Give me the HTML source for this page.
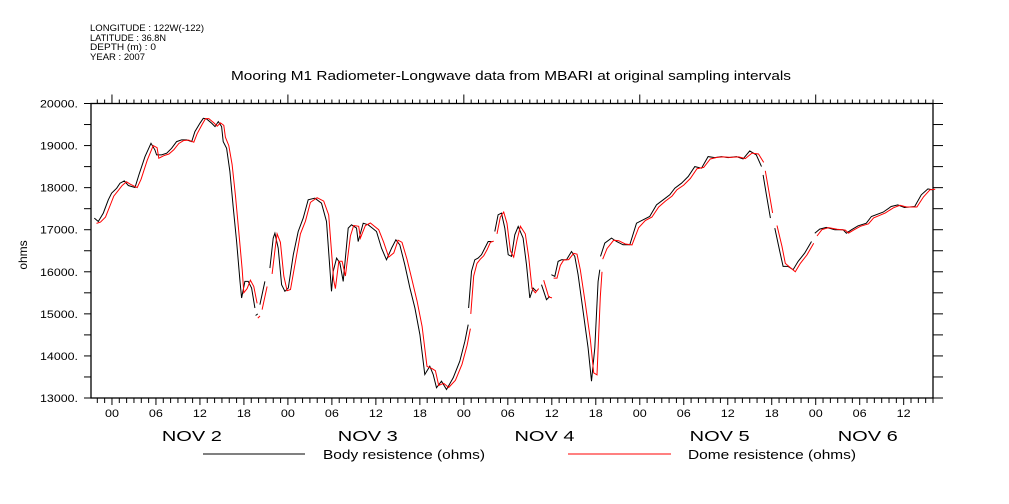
<!DOCTYPE html>
<html><head><meta charset="utf-8"><style>
body{margin:0;background:#fff;}
svg{display:block;font-family:"Liberation Sans",sans-serif;}
</style></head><body>
<svg id="chart" width="1009" height="504" viewBox="0 0 1009 504" xmlns="http://www.w3.org/2000/svg">
<g font-size="9" fill="#000">
<text x="90" y="31" textLength="114" lengthAdjust="spacingAndGlyphs">LONGITUDE : 122W(-122)</text>
<text x="90" y="41" textLength="76" lengthAdjust="spacingAndGlyphs">LATITUDE : 36.8N</text>
<text x="90" y="50" textLength="66" lengthAdjust="spacingAndGlyphs">DEPTH (m) : 0</text>
<text x="90" y="60" textLength="55" lengthAdjust="spacingAndGlyphs">YEAR : 2007</text>
</g>
<text x="231" y="80" textLength="560" lengthAdjust="spacingAndGlyphs" font-size="12.5">Mooring M1 Radiometer-Longwave data from MBARI at original sampling intervals</text>
<text transform="translate(27,255) rotate(-90)" text-anchor="middle" font-size="12">ohms</text>
<g id="axes"></g>
<g id="series"></g>
<g font-size="12.5">
<line x1="203" y1="454" x2="305" y2="454" stroke="#000"/>
<text x="323" y="459" textLength="162" lengthAdjust="spacingAndGlyphs">Body resistence (ohms)</text>
<line x1="568" y1="454" x2="671" y2="454" stroke="#f00"/>
<text x="688" y="459" textLength="168" lengthAdjust="spacingAndGlyphs">Dome resistence (ohms)</text>
</g>
</svg>
<script>
// hours relative to Nov 2 00:00
const hours=[-2.41,-1.86,-1.18,-0.5,-0.05,0.64,1.09,1.68,2.23,3.14,3.68,4.5,5.32,5.86,6.09,6.77,7.46,8.14,8.82,9.5,10.18,10.87,11.32,12.0,12.46,12.91,13.6,14.05,14.5,14.96,15.18,15.64,16.09,16.55,17.0,17.46,17.68,18.14,18.59,19.05,19.5,19.55,19.6,19.9,20.0,20.18,20.86,21.2,21.55,22.0,22.23,22.68,23.14,23.59,24.05,24.73,25.41,26.09,26.77,27.68,28.59,29.27,29.95,30.18,30.64,31.09,31.55,32.23,32.68,33.36,33.59,34.27,34.96,35.5,36.09,36.77,37.45,38.14,38.73,39.27,39.95,40.64,41.32,42.0,42.68,43.36,43.82,44.27,44.95,45.64,46.55,47.45,48.14,48.59,48.6,48.65,49.05,49.5,49.95,50.41,50.86,51.32,51.77,52.0,52.23,52.68,53.14,53.59,54.05,54.5,54.95,55.41,56.09,56.55,57.0,57.45,57.91,58.2,58.59,59.27,59.73,59.85,59.95,60.41,60.86,61.32,62.0,62.68,63.14,63.59,64.27,64.95,65.41,65.86,66.32,66.55,66.6,66.64,67.23,68.14,68.82,69.73,70.64,71.55,72.45,73.36,74.28,75.2,76.1,76.78,77.69,78.6,79.5,80.42,81.32,82.23,83.14,84.05,85.19,86.1,87.0,87.9,88.6,88.7,88.82,89.28,89.82,90.1,90.42,91.1,91.55,92.23,92.92,93.6,94.5,95.42,95.6,95.87,96.55,97.46,98.6,99.73,100.19,100.87,101.78,102.9,103.6,105.2,106.3,107.2,108.1,109.5,110.4,111.3,112.0];
const bodyValues=[17275,17196,17394,17710,17868,17987,18106,18161,18050,18003,18303,18738,19055,18897,18778,18778,18818,18936,19094,19134,19134,19094,19332,19529,19648,19632,19529,19450,19569,19450,19094,18936,18382,17512,16721,15772,15377,15772,15772,15614,15140,null,14960,15000,null,15219,15772,null,16088,16800,16918,16562,15693,15535,15614,16405,16958,17275,17710,17750,17631,17196,15535,16009,16325,16207,15772,17038,17117,17038,16721,17156,17117,17040,16958,16562,16285,16562,16760,16641,16167,15614,15140,14507,13558,13756,13558,13242,13400,13202,13479,13874,14349,14745,null,15140,16009,16285,16325,16405,16562,16721,16721,null,16958,17354,17394,17038,16405,16365,16879,17078,16800,16167,15377,15614,15535,null,15693,15337,15416,null,15930,15890,16246,16285,16285,16483,16365,15930,15061,14191,13400,14191,15772,16049,null,16365,16681,16800,16721,16641,16641,17156,17235,17315,17591,17710,17829,17987,18106,18264,18501,18462,18738,18714,18738,18714,18738,18683,18873,18778,18501,null,18303,17829,17275,null,17038,16483,16127,16127,16049,16246,16444,16721,null,16918,17014,17054,16998,16998,16918,16998,17093,17156,17315,17418,17552,17591,17528,17552,17829,17971,17947];
const domeValues=[17150,17180,17300,17600,17800,17950,18050,18140,18080,18000,18200,18650,19000,18950,18700,18760,18800,18900,19050,19120,19130,19080,19280,19500,19640,19640,19540,19460,19540,19480,19200,19000,18550,17800,16950,16050,15500,15600,15800,15650,15250,null,14900,14950,null,15100,15650,null,15950,16600,16900,16700,15900,15550,15580,16250,16900,17200,17650,17760,17680,17350,15800,15600,16250,16250,15900,16850,17100,17080,16800,17100,17160,17080,17000,16700,16350,16450,16750,16700,16300,15800,15300,14700,13750,13700,13650,13300,13350,13250,13420,13800,14250,14650,null,15000,15900,16200,16300,16380,16520,16700,16730,null,16900,17300,17420,17150,16500,16350,16750,17080,16900,16350,15600,15500,15600,null,15800,15400,15380,null,15850,15850,16150,16280,16290,16440,16420,16050,15250,14400,13600,13550,15400,16000,null,16300,16550,16750,16740,16660,16640,17050,17220,17300,17540,17680,17800,17950,18060,18220,18450,18480,18680,18720,18730,18720,18730,18690,18820,18800,18600,null,18400,17950,17400,null,17100,16600,16200,16100,16000,16200,16400,16680,null,16850,17000,17050,17010,16990,16920,16990,17080,17140,17280,17400,17520,17580,17540,17540,17780,17950,17960];
const domeLagHours=0.3;
const yTicks=[13000,14000,15000,16000,17000,18000,19000,20000];
const yTickLabels=["13000.","14000.","15000.","16000.","17000.","18000.","19000.","20000."];
const hourTickLabels=["00","06","12","18"];
const dayLabels=["NOV   2","NOV   3","NOV   4","NOV   5","NOV   6"];
const dayLabelHours=[10.9,34.9,59.0,82.9,103.1];

const X0=91,X1=933,Y0=103.5,Y1=398;
const H0=-2.86,H1=112;
const xs=h=>X0+(h-H0)/(H1-H0)*(X1-X0);
const ys=v=>Y0+(20000-v)/(20000-13000)*(Y1-Y0);
const NS="http://www.w3.org/2000/svg";
function mk(tag,attrs,parent){const e=document.createElementNS(NS,tag);for(const k in attrs)e.setAttribute(k,attrs[k]);parent.appendChild(e);return e;}
const ax=document.getElementById('axes');
let fr=mk('rect',{x:X0,y:Y0,width:X1-X0,height:Y1-Y0,fill:'none',stroke:'#000','stroke-width':1.3},ax);


for(let v=13000;v<=20000;v+=500){
  const y=ys(v);
  let t=mk('line',{x1:X0-7,y1:y,x2:X0,y2:y,stroke:'#000'},ax);
  
  
  let t2=mk('line',{x1:X1,y1:y,x2:X1+10,y2:y,stroke:'#000'},ax);
  
  
}
yTicks.forEach((v,i)=>{
  const tx=mk('text',{x:78,y:ys(v)+4,'text-anchor':'end','font-size':11,textLength:38,lengthAdjust:'spacingAndGlyphs'},ax);
  tx.textContent=yTickLabels[i];
  
  
});
for(let h=Math.ceil(H0);h<=H1;h++){
  const x=xs(h);
  const day=((h%24)+24)%24===0, six=((h%6)+6)%6===0;
  let b=mk('line',{x1:x,y1:Y1,x2:x,y2:Y1+(six?7:5),stroke:'#000'},ax);
  
  
  let t=mk('line',{x1:x,y1:Y0,x2:x,y2:Y0-(day?9:4),stroke:'#000'},ax);
  
  
  if(six){
    const l=mk('text',{x:x,y:417,'text-anchor':'middle','font-size':11,textLength:14,lengthAdjust:'spacingAndGlyphs'},ax);
    l.textContent=hourTickLabels[(((h%24)+24)%24)/6];
    
    
  }
}
dayLabels.forEach((d,i)=>{
  const l=mk('text',{x:xs(dayLabelHours[i]),y:441,'text-anchor':'middle','font-size':15,'xml:space':'preserve',textLength:60,lengthAdjust:'spacingAndGlyphs'},ax);
  l.textContent=d;
  
  
});
const sg=document.getElementById('series');
function drawSeries(vals,lag,color,name){
  let d='',pen=false;
  hours.forEach((h,i)=>{
    const v=vals[i];
    if(v===null){pen=false;return;}
    d+=(pen?'L':'M')+xs(h+lag).toFixed(1)+' '+ys(v).toFixed(1);
    pen=true;
  });
  const p=mk('path',{d:d,fill:'none',stroke:color,'stroke-width':1},sg);
  
  
}
drawSeries(bodyValues,0,'#000','body-resistance-line');
drawSeries(domeValues,domeLagHours,'#f00','dome-resistance-line');
</script>
</body></html>
